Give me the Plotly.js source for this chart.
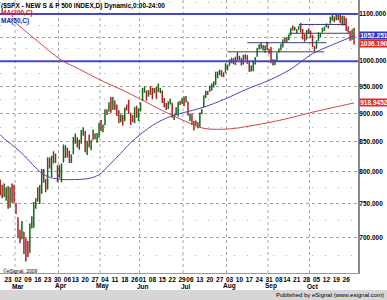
<!DOCTYPE html>
<html><head><meta charset="utf-8">
<script src="https://cdn.plot.ly/plotly-3.0.1.min.js"></script>
<style>html,body{margin:0;padding:0;background:#fff}#chart{width:387px;height:300px}</style>
</head><body><div id="chart"></div>
<script>
const dates = [
"2009-02-17","2009-02-18","2009-02-19","2009-02-20","2009-02-23","2009-02-24","2009-02-25","2009-02-26","2009-02-27",
"2009-03-02","2009-03-03","2009-03-04","2009-03-05","2009-03-06","2009-03-09","2009-03-10","2009-03-11","2009-03-12","2009-03-13","2009-03-16","2009-03-17","2009-03-18","2009-03-19","2009-03-20","2009-03-23","2009-03-24","2009-03-25","2009-03-26","2009-03-27","2009-03-30","2009-03-31",
"2009-04-01","2009-04-02","2009-04-03","2009-04-06","2009-04-07","2009-04-08","2009-04-09","2009-04-13","2009-04-14","2009-04-15","2009-04-16","2009-04-17","2009-04-20","2009-04-21","2009-04-22","2009-04-23","2009-04-24","2009-04-27","2009-04-28","2009-04-29","2009-04-30",
"2009-05-01","2009-05-04","2009-05-05","2009-05-06","2009-05-07","2009-05-08","2009-05-11","2009-05-12","2009-05-13","2009-05-14","2009-05-15","2009-05-18","2009-05-19","2009-05-20","2009-05-21","2009-05-22","2009-05-26","2009-05-27","2009-05-28","2009-05-29",
"2009-06-01","2009-06-02","2009-06-03","2009-06-04","2009-06-05","2009-06-08","2009-06-09","2009-06-10","2009-06-11","2009-06-12","2009-06-15","2009-06-16","2009-06-17","2009-06-18","2009-06-19","2009-06-22","2009-06-23","2009-06-24","2009-06-25","2009-06-26","2009-06-29","2009-06-30",
"2009-07-01","2009-07-02","2009-07-06","2009-07-07","2009-07-08","2009-07-09","2009-07-10","2009-07-13","2009-07-14","2009-07-15","2009-07-16","2009-07-17","2009-07-20","2009-07-21","2009-07-22","2009-07-23","2009-07-24","2009-07-27","2009-07-28","2009-07-29","2009-07-30","2009-07-31",
"2009-08-03","2009-08-04","2009-08-05","2009-08-06","2009-08-07","2009-08-10","2009-08-11","2009-08-12","2009-08-13","2009-08-14","2009-08-17","2009-08-18","2009-08-19","2009-08-20","2009-08-21","2009-08-24","2009-08-25","2009-08-26","2009-08-27","2009-08-28","2009-08-31",
"2009-09-01","2009-09-02","2009-09-03","2009-09-04","2009-09-08","2009-09-09","2009-09-10","2009-09-11","2009-09-14","2009-09-15","2009-09-16","2009-09-17","2009-09-18","2009-09-21","2009-09-22","2009-09-23","2009-09-24","2009-09-25","2009-09-28","2009-09-29","2009-09-30",
"2009-10-01","2009-10-02","2009-10-05","2009-10-06","2009-10-07","2009-10-08","2009-10-09","2009-10-12","2009-10-13","2009-10-14","2009-10-15","2009-10-16","2009-10-19","2009-10-20","2009-10-21","2009-10-22","2009-10-23","2009-10-26","2009-10-27","2009-10-28","2009-10-29","2009-10-30"];

const open = [785,769,767,766,773,744,770,766,749,
729,704,698,708,684,680,679,720,720,752,758,753,776,797,785,772,820,806,814,829,809,790,
793,815,835,839,834,816,829,856,857,840,854,865,868,831,848,845,853,863,854,857,875,
873,879,906,904,920,907,923,911,905,885,893,887,910,909,900,888,887,910,893,907,
923,943,942,932,945,940,940,943,940,943,942,925,911,911,920,919,893,897,899,919,920,927,
921,921,894,898,881,882,880,880,901,911,930,940,942,952,953,956,972,979,980,977,977,986,
991,1001,1005,1005,1004,1009,1006,994,1006,1012,999,980,986,996,1010,1026,1026,1027,1027,1032,1025,
1019,997,996,1003,1019,1025,1033,1044,1040,1049,1054,1067,1066,1064,1066,1072,1062,1050,1045,1063,1062,
1054,1029,1026,1042,1053,1060,1065,1072,1074,1079,1090,1094,1089,1098,1090,1080,1095,1080,1067,1061,1044,1066];

const high = [787,779,781,775,777,775,781,779,751,
729,711,724,708,699,695,720,731,752,758,775,778,804,804,788,823,823,826,833,829,810,810,
813,845,843,839,834,828,858,864,857,853,870,875,868,851,862,852,871,864,865,883,888,
880,907,907,920,930,930,923,916,905,898,897,910,916,925,901,897,911,914,909,920,
947,950,942,943,951,947,947,949,956,947,942,928,919,922,927,919,898,911,921,923,928,931,
932,921,899,899,886,887,884,901,908,933,942,941,951,956,960,979,979,983,982,977,996,993,
1003,1006,1006,1009,1018,1011,1006,1013,1013,1012,999,991,999,1008,1027,1035,1038,1033,1032,1040,1025,
1029,1004,1003,1017,1026,1036,1045,1049,1050,1056,1069,1075,1072,1067,1073,1080,1067,1056,1065,1069,1064,
1054,1031,1043,1060,1058,1070,1072,1079,1075,1094,1097,1094,1099,1099,1101,1096,1095,1091,1073,1063,1066,1070];

const low = [762,758,760,754,742,744,751,751,734,
699,692,698,677,667,673,679,713,714,742,753,749,765,782,767,772,805,791,814,814,783,790,
783,815,822,823,814,814,829,846,840,836,846,860,832,827,840,835,853,854,848,857,868,
866,879,897,903,901,907,906,895,882,884,878,886,905,899,879,884,882,892,886,903,
923,938,923,931,934,926,937,927,940,937,919,911,906,908,916,892,888,897,894,915,917,913,
920,896,886,879,869,878,873,875,898,911,928,934,940,942,948,953,966,972,969,968,977,982,
991,996,994,992,1002,1002,991,994,1003,995,979,980,980,993,1009,1024,1026,1022,1017,1023,1015,
996,991,992,1001,1017,1022,1028,1039,1039,1043,1054,1064,1064,1057,1066,1060,1045,1040,1045,1057,1048,
1029,1020,1026,1042,1050,1060,1063,1071,1068,1079,1085,1082,1086,1086,1080,1075,1075,1063,1059,1042,1044,1034];

const close = [768,766,770,770,743,773,765,753,735,
701,696,713,683,683,677,720,721,751,757,754,778,794,784,769,823,806,814,833,816,788,798,
811,834,843,835,816,825,857,859,842,852,865,870,832,850,844,852,866,858,855,874,873,
878,907,904,920,907,929,909,908,884,893,883,910,908,903,888,887,910,893,907,919,
943,945,932,942,940,939,942,939,945,946,924,912,911,918,921,893,895,901,920,919,927,919,
923,896,899,881,880,883,879,901,906,933,941,940,951,955,954,976,979,982,980,975,987,987,
1003,1006,1003,997,1010,1007,994,1006,1013,1004,980,990,996,1007,1026,1026,1028,1028,1031,1029,1021,
998,995,1003,1016,1025,1033,1044,1043,1049,1053,1069,1065,1068,1065,1072,1061,1051,1044,1063,1061,1057,
1030,1025,1040,1055,1058,1065,1071,1076,1073,1092,1097,1088,1098,1091,1081,1093,1080,1067,1063,1043,1066,1036.19];

const ma200Dates = ["2009-02-24","2009-03-02","2009-03-16","2009-04-01","2009-04-15","2009-05-01","2009-05-15","2009-06-01","2009-06-15","2009-07-01","2009-07-15","2009-08-03","2009-08-17","2009-09-01","2009-09-15","2009-10-01","2009-10-16","2009-10-30"];
const ma200 = [1091,1076,1041,1002,984,960,943,924,905,885,873,872,877,884,891,902,911,918.9452];

const ma50Dates = ["2009-02-17","2009-02-19","2009-03-03","2009-03-16","2009-03-19","2009-03-26","2009-04-07","2009-04-22","2009-04-29","2009-05-06","2009-05-14","2009-05-21","2009-06-08","2009-06-19","2009-07-13","2009-07-27","2009-08-17","2009-08-31","2009-09-16","2009-10-01","2009-10-19","2009-10-30"];
const ma50 = [862,855,833,803,795,789,787,789,795,810,830,848,878,894,909,922,947,962,984,1015,1037,1052.251];

const weekTicks = ["2009-02-23","2009-03-02","2009-03-09","2009-03-16","2009-03-23","2009-03-30","2009-04-06","2009-04-13","2009-04-20","2009-04-27","2009-05-04","2009-05-11","2009-05-18","2009-05-26","2009-06-01","2009-06-08","2009-06-15","2009-06-22","2009-06-29","2009-07-06","2009-07-13","2009-07-20","2009-07-27","2009-08-03","2009-08-10","2009-08-17","2009-08-24","2009-08-31","2009-09-08","2009-09-14","2009-09-21","2009-09-28","2009-10-05","2009-10-12","2009-10-19","2009-10-26"];
const monthStarts = ["2009-03-02","2009-04-01","2009-05-01","2009-06-01","2009-07-01","2009-08-03","2009-09-01","2009-10-01"];
const monthNames = ["Mar","Apr","May","Jun","Jul","Aug","Sep","Oct"];
const monthEnds = ["2009-02-27","2009-03-31","2009-04-30","2009-05-29","2009-06-30","2009-07-31","2009-08-31","2009-09-30"];

const priceTicks = [700,750,800,850,900,950,1000,1050,1100];
const minorTicks = [675,725,775,825,875,925,975,1025,1075,1125];
const fullLevels = [1000,1100];
const shortLevels = [1019,1038,1058,1077];
const shortFrom = ["2009-07-31","2009-08-14","2009-09-15","2009-09-22"];
const shortTo = ["2009-10-09","2009-10-12","2009-10-28","2009-10-26"];

const idx = d => dates.indexOf(d);
const X = dates.map((d,i)=>i);
const W=387,H=300,PL=0,PR=29,PT=0,PB=27;
const plotH=H-PT-PB, plotW=W-PL-PR;
const py = p => (plotH - (p-PT))/plotH;
const px = p => (p-PL)/plotW;
const F = 'Liberation Sans, Arial, sans-serif';

const traces = [];
fullLevels.forEach(v=>traces.push({type:'scatter',mode:'lines',x:[-1,182],y:[v,v],line:{color:'#4646c8',width:2},hoverinfo:'skip',showlegend:false}));
shortLevels.forEach((v,k)=>traces.push({type:'scatter',mode:'lines',x:[idx(shortFrom[k]),idx(shortTo[k])],y:[v,v],line:{color:'#3c3c78',width:1},hoverinfo:'skip',showlegend:false}));
traces.push({type:'scatter',mode:'lines',x:ma200Dates.map(idx),y:ma200,line:{color:'#d04848',width:1,shape:'spline',smoothing:1},showlegend:false});
traces.push({type:'scatter',mode:'lines',x:ma50Dates.map(idx),y:ma50,line:{color:'#4848c0',width:1,shape:'spline',smoothing:1},showlegend:false});
traces.push({type:'ohlc',x:X,open:open,high:high,low:low,close:close,tickwidth:0.3,
  increasing:{line:{color:'#17691a',width:1.5}},decreasing:{line:{color:'#a52222',width:1.5}},showlegend:false});

const shapes = monthEnds.map(d=>({type:'line',xref:'x',yref:'paper',x0:idx(d)-0.5,x1:idx(d)-0.5,y0:0,y1:1,line:{color:'#a8a8a8',width:1,dash:'dot'},layer:'below'}));
shapes.push({type:'rect',xref:'paper',yref:'paper',x0:px(0),x1:px(W),y0:py(300),y1:py(290),fillcolor:'#d6d6d6',line:{width:0}});

const last = close.length-1;
const box = (v,txt,bg)=>({xref:'paper',yref:'y',x:1,xanchor:'left',xshift:1,y:Math.log10(v),yanchor:'middle',text:txt,showarrow:false,
  bgcolor:bg,font:{family:F,size:6.5,color:'#fff',weight:'bold'},borderpad:0,width:28,height:7,align:'center'});
const annotations = [
  {xref:'paper',yref:'paper',x:0,y:py(1),xanchor:'left',yanchor:'top',text:'($SPX - NEW S & P 500 INDEX,D) Dynamic,0:00-24:00',showarrow:false,font:{family:F,size:6.5,color:'#000',weight:'bold'},borderpad:0},
  {xref:'paper',yref:'paper',x:0,y:py(13),xanchor:'left',yanchor:'middle',text:'MA(200,C)',showarrow:false,font:{family:F,size:6.5,color:'#d02020',weight:'bold'},borderpad:0},
  {xref:'paper',yref:'paper',x:0,y:py(21),xanchor:'left',yanchor:'middle',text:'MA(50,C)',showarrow:false,font:{family:F,size:6.5,color:'#2020c0',weight:'bold'},borderpad:0},
  {xref:'paper',yref:'paper',x:px(2),y:py(271),xanchor:'left',yanchor:'middle',text:'©eSignal, 2009',showarrow:false,font:{family:F,size:5,color:'#000'},borderpad:0},
  {xref:'paper',yref:'paper',x:px(385),y:py(295),xanchor:'right',yanchor:'middle',text:'Published by eSignal (www.esignal.com)',showarrow:false,font:{family:F,size:6,color:'#000'},borderpad:0},
  box(ma50[ma50.length-1], ma50[ma50.length-1].toFixed(3), '#3434c8'),
  box(close[last], close[last].toFixed(3), '#e82828'),
  box(ma200[ma200.length-1], ma200[ma200.length-1].toFixed(4), '#e82828')
];
monthStarts.forEach((d,k)=>annotations.push({xref:'x',yref:'paper',x:idx(d),y:py(286),xanchor:'center',yanchor:'middle',text:monthNames[k],showarrow:false,font:{family:F,size:6.5,color:'#000',weight:'bold'},borderpad:0}));

const layout = {
  width:W,height:H,margin:{l:PL,r:PR,t:PT,b:PB,pad:0},
  paper_bgcolor:'#fff',plot_bgcolor:'#fff',showlegend:false,
  xaxis:{range:[-0.1,181],tickmode:'array',tickvals:weekTicks.map(idx),ticktext:weekTicks.map(d=>d.slice(8,10)),tickangle:0,
    tickfont:{family:F,size:6.5,color:'#000',weight:'bold'},ticks:'',ticklabelstandoff:0,showgrid:false,zeroline:false,showline:true,linecolor:'#9a9a9a',linewidth:1,
    rangeslider:{visible:false},fixedrange:true},
  yaxis:{type:'log',side:'right',range:[Math.log10(651.6),Math.log10(1131.6)],tickmode:'array',tickvals:priceTicks,ticktext:priceTicks.map(v=>v.toFixed(3)),
    tickfont:{family:F,size:6.5,color:'#000',weight:'bold'},ticks:'',ticklabelstandoff:-2,showgrid:true,gridcolor:'#a0a0a0',griddash:'dot',gridwidth:1,
    minor:{tickmode:'array',tickvals:minorTicks,showgrid:true,gridcolor:'#b0b0b0',griddash:'1px,12px',gridwidth:1},
    zeroline:false,showline:true,linecolor:'#8a8a8a',linewidth:2,fixedrange:true},
  shapes:shapes,annotations:annotations
};
Plotly.newPlot('chart',traces,layout,{staticPlot:true,displayModeBar:false});
</script></body></html>
